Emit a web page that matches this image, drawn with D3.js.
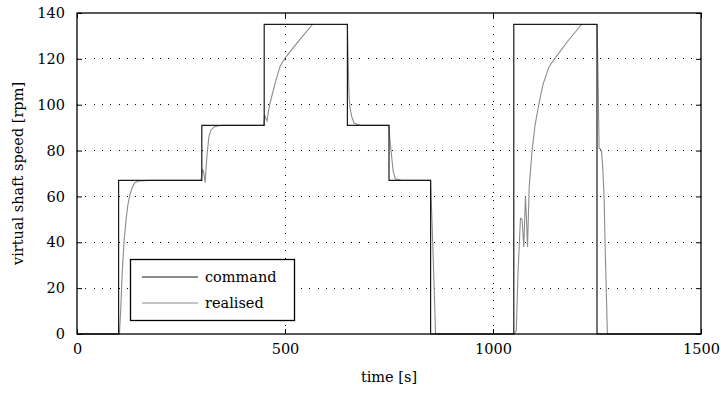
<!DOCTYPE html>
<html><head><meta charset="utf-8">
<script src="https://cdn.jsdelivr.net/npm/d3@7"></script>
<style>body{margin:0;background:#fff}svg text{font-family:"DejaVu Serif",serif;fill:#000}</style>
</head><body><svg id="c" width="721" height="393"></svg>
<script>
const xTicks=[0,500,1000,1500];
const yTicks=[0,20,40,60,80,100,120,140];
const seriesNames=["command","realised"];
const commandT=[0,100,100,300,300,450,450,650,650,750,750,850,850,1050,1050,1250,1250,1500];
const commandV=[0,0,67,67,91,91,135,135,91,91,67,67,0,0,135,135,0,0];
const realT=[0,102,105,109,113,118,122,127,133,139,150,175,298,302,305,308,312,317,322,330,340,350,449,451,454,457,460,464,470,476,482,488,494,500,532,566,650,652,654,656,660,666,680,750,752,756,760,765,780,850,856,862,1050,1054,1056,1060,1066,1070,1074,1078,1080,1083,1087,1094,1101,1109,1115,1121,1128,1135,1142,1149,1180,1213,1250,1252,1255,1258,1261,1264,1267,1270,1275,1500];
const realV=[0,0,10,28,40,50,56,60.6,64,66,66.8,67,67,72,70,66,77,86,89,90.3,90.8,91,91,95.5,94,93,97,100.6,105,109.3,113,116.6,118.6,120.3,127.6,135,135,118,104,99,95,92,91,91,85,78,71,67.7,67,67,35,0,0,1,1.7,26,50.5,50,38,60,52,38,64,80,91,99,104.5,109.3,113,116.6,118.5,120.2,127.8,135,135,118,81,80.7,79.5,72,60,35,0,0];
const svg=d3.select("#c");
const x=d3.scaleLinear().domain([0,1500]).range([77,701]);
const y=d3.scaleLinear().domain([0,140]).range([334,13]);
const FS=14.5;
// grid
const g=svg.append("g");
g.selectAll(".gy").data(yTicks.filter(d=>d>0&&d<140)).join("line")
 .attr("x1",x(0)).attr("x2",x(1500)).attr("y1",d=>y(d)).attr("y2",d=>y(d))
 .attr("stroke","#000").attr("stroke-width",1).attr("stroke-dasharray","1,7.3").attr("shape-rendering","crispEdges");
g.selectAll(".gx").data(xTicks.filter(d=>d>0&&d<1500)).join("line")
 .attr("y1",y(0)).attr("y2",y(140)).attr("x1",d=>x(d)).attr("x2",d=>x(d))
 .attr("stroke","#000").attr("stroke-width",1).attr("stroke-dasharray","1,7.3").attr("shape-rendering","crispEdges");
// lines
const line=d3.line().x(d=>x(d[0])).y(d=>y(d[1]));
svg.append("path").datum(realT.map((t,i)=>[t,realV[i]])).attr("d",line)
 .attr("fill","none").attr("stroke","#8c8c8c").attr("stroke-width",1.1);
svg.append("path").datum(commandT.map((t,i)=>[t,commandV[i]])).attr("d",line)
 .attr("fill","none").attr("stroke","#1a1a1a").attr("stroke-width",1.2);
// axes
const tick=5;
const ax=svg.append("g").attr("transform",`translate(0,${y(0)})`).call(d3.axisBottom(x).tickValues(xTicks).tickSize(-tick).tickPadding(10).tickFormat(d3.format("d")));
const axT=svg.append("g").attr("transform",`translate(0,${y(140)})`).call(d3.axisTop(x).tickValues(xTicks).tickSize(-tick).tickFormat(""));
const ay=svg.append("g").attr("transform",`translate(${x(0)},0)`).call(d3.axisLeft(y).tickValues(yTicks).tickSize(-tick).tickPadding(12));
const ayR=svg.append("g").attr("transform",`translate(${x(1500)},0)`).call(d3.axisRight(y).tickValues(yTicks).tickSize(-tick).tickFormat(""));
[ax,axT,ay,ayR].forEach(a=>{a.select(".domain").remove();a.attr("font-family",null);a.selectAll("line").attr("stroke","#000");a.selectAll("text").attr("font-size",FS);});
svg.append("rect").attr("x",x(0)).attr("y",y(140)).attr("width",x(1500)-x(0)).attr("height",y(0)-y(140))
 .attr("fill","none").attr("stroke","#000").attr("stroke-width",1.3);
// labels
svg.append("text").attr("x",(x(0)+x(1500))/2).attr("y",382).attr("text-anchor","middle").attr("font-size",FS).text("time [s]");
svg.append("text").attr("transform",`translate(23,${(y(0)+y(140))/2}) rotate(-90)`).attr("text-anchor","middle").attr("font-size",FS).text("virtual shaft speed [rpm]");
// legend
const lg=svg.append("g");
lg.append("rect").attr("x",130.5).attr("y",259.5).attr("width",164).attr("height",61).attr("fill","#fff").attr("stroke","#000").attr("stroke-width",1.3);
const colors=["#1a1a1a","#8c8c8c"];
seriesNames.forEach((n,i)=>{
 const yy=277+i*26;
 lg.append("line").attr("x1",142).attr("x2",198).attr("y1",yy).attr("y2",yy).attr("stroke",colors[i]).attr("stroke-width",1.2);
 lg.append("text").attr("x",205).attr("y",yy+5).attr("font-size",FS).text(n);
});
</script></body></html>
